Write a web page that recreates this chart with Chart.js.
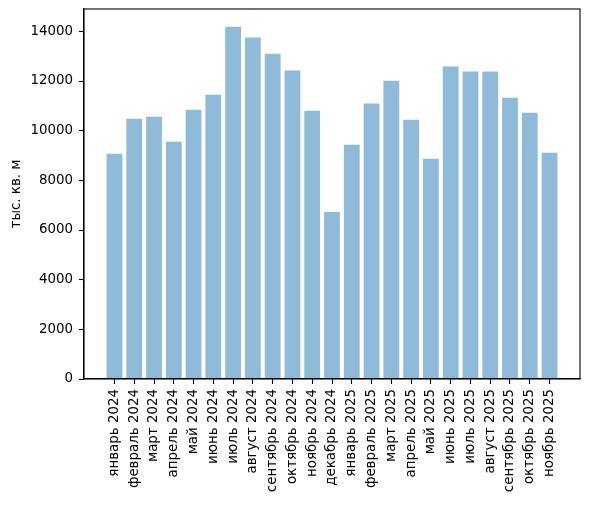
<!DOCTYPE html>
<html>
<head>
<meta charset="utf-8">
<script src="https://cdn.jsdelivr.net/npm/chart.js@4.4.1/dist/chart.umd.min.js"></script>
<style>
html,body{margin:0;padding:0;background:#fff;}
#wrap{width:589px;height:506px;position:relative;}
</style>
</head>
<body>
<div id="wrap"><canvas id="c"></canvas></div>
<script>
const categories = ["январь 2024","февраль 2024","март 2024","апрель 2024","май 2024","июнь 2024","июль 2024","август 2024","сентябрь 2024","октябрь 2024","ноябрь 2024","декабрь 2024","январь 2025","февраль 2025","март 2025","апрель 2025","май 2025","июнь 2025","июль 2025","август 2025","сентябрь 2025","октябрь 2025","ноябрь 2025"];
const values = [9070,10480,10560,9550,10840,11450,14190,13750,13100,12420,10800,6730,9430,11090,12010,10440,8870,12580,12380,12380,11330,10720,9110];
const yTicks = [0,2000,4000,6000,8000,10000,12000,14000];
const yTitle = "тыс. кв. м";

const FONT = {family: "'DejaVu Sans'", size: 13.4};

const frame = {
  id: 'frame',
  afterDraw(chart) {
    const a = chart.chartArea, ctx = chart.ctx;
    ctx.save();
    ctx.strokeStyle = '#000';
    ctx.lineWidth = 1.1;
    ctx.strokeRect(a.left, a.top, a.right - a.left, a.bottom - a.top);
    ctx.restore();
  }
};

function zeroPad(s) { s.paddingTop = 0; s.paddingBottom = 0; s.paddingLeft = 0; s.paddingRight = 0; }

new Chart(document.getElementById('c'), {
  type: 'bar',
  data: {
    datasets: [{
      data: categories.map((c, i) => ({x: i, y: values[i]})),
      backgroundColor: 'rgba(31,119,180,0.5)',
      borderWidth: 0,
      barPercentage: 0.8,
      categoryPercentage: 1.0
    }]
  },
  options: {
    responsive: true,
    maintainAspectRatio: false,
    animation: false,
    devicePixelRatio: 1,
    layout: {padding: {top: 9, right: 9, left: 0, bottom: 0}},
    plugins: {legend: {display: false}, tooltip: {enabled: false}},
    scales: {
      x: {
        type: 'linear',
        offset: false,
        min: -1.54,
        max: 23.54,
        afterBuildTicks: (s) => { s.ticks = categories.map((c, i) => ({value: i})); },
        afterFit: (s) => { s.height = 127; zeroPad(s); },
        ticks: {
          autoSkip: false,
          maxRotation: 90,
          minRotation: 90,
          padding: 5,
          color: '#000',
          font: FONT,
          callback: (v, i) => categories[i]
        },
        grid: {offset: false, drawOnChartArea: false, drawTicks: true, tickLength: 5, tickColor: '#000', tickWidth: 1.1},
        border: {display: true, color: '#000', width: 1.1}
      },
      y: {
        min: 0,
        max: 14900,
        afterBuildTicks: (s) => { s.ticks = yTicks.map(v => ({value: v})); },
        afterFit: (s) => { s.width = 84; zeroPad(s); },
        ticks: {color: '#000', font: FONT, padding: 6, callback: (v) => String(v)},
        grid: {drawOnChartArea: false, drawTicks: true, tickLength: 5, tickColor: '#000', tickWidth: 1.1},
        border: {display: true, color: '#000', width: 1.1},
        title: {display: true, text: yTitle, color: '#000', font: {family: "'DejaVu Sans'", size: 13.4}, padding: {top: 8, bottom: 0}}
      }
    }
  },
  plugins: [frame]
});
</script>
</body>
</html>
